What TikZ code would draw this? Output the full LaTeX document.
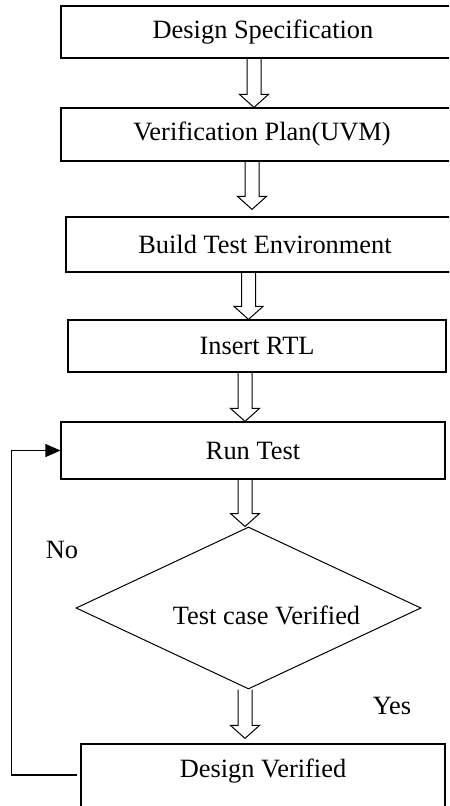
\documentclass[tikz,border=0pt]{standalone}
\usepackage{fontspec}
\setmainfont{Liberation Serif}
\usetikzlibrary{shapes.geometric,calc,arrows.meta}
\tikzstyle{stepbox}=[
	draw=black,
	line width=0.6pt,
	shape=rectangle,
	inner sep=0pt,
	font=\fontsize{13.2}{15}\selectfont
]
\tikzstyle{decision}=[
	draw=black,
	line width=0.5pt,
	shape=diamond,
	shape aspect=2.13,
	minimum width=172.5pt,
	minimum height=81pt,
	inner sep=0pt
]
\tikzstyle{hollow}=[draw,line width=0.5pt,
	to path={let \p1=(\tikztostart), \p2=(\tikztotarget) in
		(\x1-3.5pt,\y1) -- (\x1-3.5pt,\y2+6.5pt) -- (\x1-7.25pt,\y2+6.5pt) -- (\x1,\y2)
		-- (\x1+7.25pt,\y2+6.5pt) -- (\x1+3.5pt,\y2+6.5pt) -- (\x1+3.5pt,\y1)}]
\tikzstyle{fb}=[draw,line width=0.6pt,-{Triangle[length=7.5pt,width=6.5pt]}]
\tikzstyle{answer}=[font=\fontsize{13.2}{15}\selectfont,inner sep=0pt]

\begin{document}
\begin{tikzpicture}[x=0.5pt,y=-0.5pt]
			
				\useasboundingbox (0,0) rectangle (449,806);
				\clip (0,0) rectangle (449,806);
				
				\node[stepbox,minimum width=202pt,minimum height=26pt]	(ds) at (263,32) {Design Specification};
				\node[stepbox,minimum width=201pt,minimum height=26.5pt]	(vp) at (262,134.5) {Verification Plan(UVM)};
				\node[stepbox,minimum width=199pt,minimum height=27.5pt]	(bte) at (265,244.5) {Build Test Environment};
				\node[stepbox,minimum width=189pt,minimum height=26pt]	(rtl) at (257,346) {Insert RTL};
				\node[stepbox,minimum width=192pt,minimum height=28.5pt]	(rt) at (253,450.5) {Run Test};
				\node[decision,label={[answer,xshift=9pt,yshift=-3.5pt]center:Test case Verified}]	(tc) at (248.5,608) {};
				\node[stepbox,minimum width=182pt,minimum height=35pt,text depth=11pt]	(dv) at (263,779) {Design Verified};
				
				\node[answer]	(no) at (62,550) {No};
				\node[answer]	(yes) at (392,706) {Yes};
				
				\path[hollow]
				([xshift=-4.5pt]ds.south) edge (vp.north)
				([xshift=-5pt]vp.south) edge ([yshift=3.5pt]bte.north)
				([xshift=-8.25pt]bte.south) edge (rtl.north)
				([xshift=-6pt]rtl.south) edge (rt.north)
				([xshift=-4pt]rt.south) edge (tc.north)
				([xshift=-1.75pt]tc.south) edge ([yshift=2.5pt]dv.north);
				
				\path[fb] ([xshift=-1.5pt,yshift=2pt]dv.west) -- ++(-66,0) |- (rt.west);
			
			\end{tikzpicture}
\end{document}
